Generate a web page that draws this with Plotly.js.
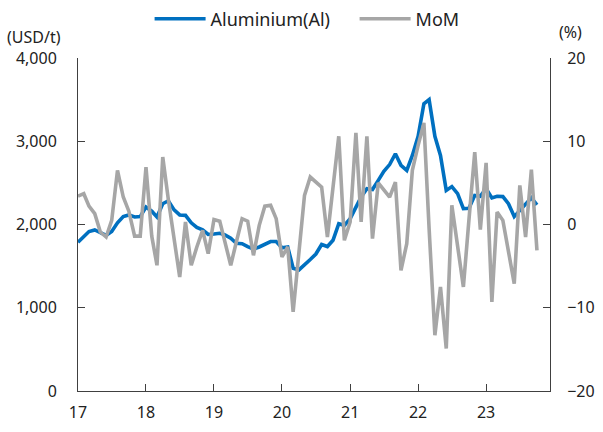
<!DOCTYPE html>
<html>
<head>
<meta charset="utf-8">
<script src="https://cdn.plot.ly/plotly-3.0.1.min.js"></script>
<style>html,body{margin:0;padding:0;background:#fff;}#chart{width:603px;height:432px;}</style>
</head>
<body>
<div id="chart"></div>
<script>
// Months Jan 2017 .. Oct 2023
const startYear = 2017, nMonths = 82;
const months = [];
for (let k = 0; k < nMonths; k++) {
  const y = startYear + Math.floor(k / 12), m = (k % 12) + 1;
  months.push(y + '-' + (m < 10 ? '0' + m : m) + '-01');
}
// Aluminium price (USD/t)
const aluminium = [
  1787, 1855, 1915, 1935, 1903, 1870, 1915, 2020, 2095, 2115, 2090, 2095,
  2210, 2160, 2090, 2250, 2285, 2175, 2115, 2110, 2020, 1965, 1935, 1880,
  1885, 1895, 1875, 1835, 1775, 1770, 1735, 1705, 1730, 1765, 1795, 1795,
  1720, 1730, 1475, 1455, 1510, 1580, 1645, 1760, 1735, 1810, 2010, 1990,
  2070, 2200, 2330, 2430, 2420, 2530, 2640, 2720, 2850, 2710, 2650, 2830,
  3060, 3450, 3500, 3060, 2830, 2410, 2455, 2370, 2190, 2195, 2350, 2340,
  2430, 2320, 2340, 2335, 2250, 2095, 2170, 2240, 2320, 2235
];
// Month-on-month change (%)
const mom = [
  3.4, 3.7, 2.2, 1.3, -0.9, -1.5, 0.5, 6.5, 3.3, 1.6, -1.4, -1.4,
  6.9, -1.4, -4.9, 8.1, 3.0, -1.6, -6.3, 0.3, -4.9, -2.7, -0.7, -3.5,
  0.6, 0.4, -2.0, -4.9, -2.1, 0.7, 0.4, -3.7, -0.1, 2.2, 2.3, 0.7,
  -3.9, -2.7, -10.5, -3.5, 3.5, 5.7, 5.1, 4.5, -1.5, 4.5, 10.6, -1.9,
  0.3, 11.0, 0.3, 10.6, -1.7, 5.0, 4.1, 3.3, 5.1, -5.5, -2.3, 6.5,
  9.5, 12.2, -0.5, -13.3, -7.5, -14.9, 2.3, -2.4, -7.5, 0.6, 8.7, -0.6,
  7.4, -9.3, 1.5, 0.5, -3.3, -7.1, 4.7, -1.5, 6.6, -3.1
];
const yearTicks = ['2017-01-01','2018-01-01','2019-01-01','2020-01-01','2021-01-01','2022-01-01','2023-01-01'];
const yearLabels = ['17','18','19','20','21','22','23'];

const FONT = 'Noto Sans, sans-serif';
const axisColor = '#404040';

const traces = [
  {x: months, y: aluminium, name: 'Aluminium(Al)', type: 'scatter', mode: 'lines',
   line: {color: '#0070C0', width: 3.6}, yaxis: 'y'},
  {x: months, y: mom, name: 'MoM', type: 'scatter', mode: 'lines',
   line: {color: '#A6A6A6', width: 3.6}, yaxis: 'y2'}
];

const layout = {
  width: 603, height: 432,
  margin: {l: 78, r: 53, t: 58, b: 41, autoexpand: false},
  paper_bgcolor: '#fff', plot_bgcolor: '#fff',
  font: {family: FONT, size: 16, color: '#222'},
  showlegend: true,
  legend: {orientation: 'h', x: 0.586, xanchor: 'center', y: 1.117, yanchor: 'middle',
           font: {family: FONT, size: 18, color: '#222'}, itemwidth: 51,
           entrywidth: 139, entrywidthmode: 'pixels', tracegroupgap: 0},
  xaxis: {type: 'date', range: ['2017-01-01', '2023-12-10'],
          tickvals: yearTicks, ticktext: yearLabels,
          showgrid: false, zeroline: false, showline: true, linecolor: axisColor, linewidth: 1,
          ticks: 'inside', ticklen: 7, tickcolor: axisColor, ticklabelstandoff: 7, tickfont: {size: 16}},
  yaxis: {range: [0, 4000], dtick: 1000, tickformat: ',d',
          showgrid: false, zeroline: false, showline: true, linecolor: axisColor, linewidth: 1,
          ticks: 'inside', ticklen: 7, tickcolor: axisColor, ticklabelstandoff: 17, tickfont: {size: 16}},
  yaxis2: {range: [-20, 20], dtick: 10, overlaying: 'y', side: 'right',
           showgrid: false, zeroline: false, showline: true, linecolor: axisColor, linewidth: 1,
           ticks: 'inside', ticklen: 7, tickcolor: axisColor, ticklabelstandoff: 13, tickfont: {size: 16}},
  annotations: [
    {text: '(USD/t)', xref: 'paper', yref: 'paper', x: -0.155, y: 1.062, xanchor: 'left', yanchor: 'middle',
     showarrow: false, font: {family: FONT, size: 16, color: '#222'}},
    {text: '(%)', xref: 'paper', yref: 'paper', x: 1.015, y: 1.078, xanchor: 'left', yanchor: 'middle',
     showarrow: false, font: {family: FONT, size: 16, color: '#222'}}
  ]
};

Plotly.newPlot('chart', traces, layout, {displayModeBar: false, staticPlot: true});
</script>
</body>
</html>
